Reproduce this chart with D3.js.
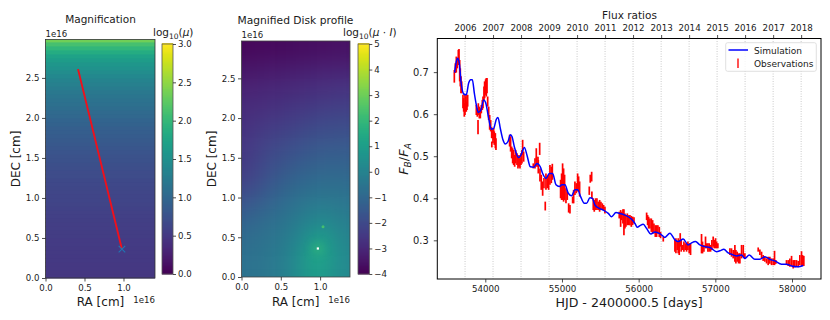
<!DOCTYPE html>
<html>
<head>
<meta charset="utf-8">
<script src="https://cdn.jsdelivr.net/npm/d3@7"></script>
<style>
  body { margin: 0; background: #fff; }
  svg text { font-family: "DejaVu Sans", sans-serif; fill: #1a1a1a; }
</style>
</head>
<body>
<div id="chart"></div>
<script>
// Magnification map: log10(mu) per DEC row, bottom to top (rows 0.05e16 tall)
const magRows = [
  .48,.48,.49,.49,.50,.50,.51,.51,.52,.52,
  .53,.53,.54,.55,.56,.57,.58,.59,.60,.61,
  .62,.63,.64,.65,.66,.68,.69,.71,.72,.74,
  .76,.78,.80,.82,.84,.86,.88,.90,.93,.96,
  1.00,1.03,1.06,1.10,1.13,1.17,1.20,1.25,1.29,1.34,
  1.40,1.46,1.52,1.58,1.65,1.73,1.84,1.97,2.12,2.35,2.55
];
const trackRa = [0.417, 0.98];
const trackDec = [2.61, 0.36];

// Disk profile: log10(mu I), top row first
const diskGrid = [
  [-3.85,-3.82,-3.80,-3.77,-3.74,-3.71,-3.68,-3.65,-3.62,-3.60],
  [-3.60,-3.57,-3.54,-3.50,-3.46,-3.42,-3.39,-3.35,-3.32,-3.30],
  [-3.35,-3.30,-3.25,-3.20,-3.15,-3.10,-3.05,-3.00,-2.96,-2.92],
  [-3.10,-3.05,-3.00,-2.94,-2.88,-2.82,-2.76,-2.70,-2.66,-2.62],
  [-2.90,-2.84,-2.77,-2.70,-2.62,-2.55,-2.47,-2.41,-2.36,-2.32],
  [-2.75,-2.65,-2.55,-2.45,-2.35,-2.25,-2.15,-2.08,-2.03,-2.00],
  [-2.60,-2.45,-2.33,-2.20,-2.07,-1.95,-1.85,-1.78,-1.73,-1.70],
  [-2.50,-2.30,-2.10,-1.93,-1.78,-1.65,-1.53,-1.46,-1.43,-1.42],
  [-2.40,-2.15,-1.92,-1.70,-1.52,-1.36,-1.24,-1.16,-1.14,-1.16],
  [-2.20,-1.95,-1.65,-1.42,-1.22,-1.05,-.92,-.85,-.85,-.90],
  [-1.80,-1.60,-1.35,-1.10,-.90,-.72,-.58,-.52,-.55,-.62],
  [-1.40,-1.22,-1.02,-.82,-.62,-.40,-.22,-.15,-.22,-.35],
  [-1.05,-.92,-.75,-.58,-.35,-.08,.20,.30,.15,-.10],
  [-.85,-.72,-.58,-.40,-.15,.25,.80,.95,.50,.10],
  [-.70,-.60,-.48,-.28,.05,.50,1.15,1.20,.65,.25],
  [-.60,-.52,-.42,-.22,.10,.50,.90,.90,.55,.22]
];
const spotRa = [0.97, 1.037];
const spotDec = [0.36, 0.633];

// Flux ratio light curve
const simDays = [53600,53622,53639,53661,53683,53718,53752,53783,53809,53831,53857,53883,53909,53944,53978,54004,54044,54078,54109,54144,54165,54196,54230,54261,54296,54326,54348,54378,54435,54465,54509,54543,54587,54630,54674,54717,54748,54791,54835,54878,54922,54965,55000,55039,55082,55126,55169,55204,55243,55291,55321,55365,55395,55430,55487,55539,55604,55647,55704,55756,55821,55908,55952,55982,56017,56060,56104,56160,56212,56277,56342,56407,56473,56516,56581,56646,56690,56742,56798,56864,56929,57016,57059,57111,57168,57211,57277,57342,57385,57442,57516,57581,57646,57711,57776,57863,57928,57994,58081,58146];
const simRatio = [.699,.725,.733,.721,.678,.648,.646,.674,.682,.682,.650,.622,.604,.610,.634,.628,.590,.564,.566,.588,.592,.566,.539,.529,.535,.551,.547,.523,.497,.503,.521,.503,.475,.474,.483,.475,.459,.447,.459,.459,.432,.428,.432,.432,.412,.406,.420,.420,.404,.388,.388,.401,.400,.384,.376,.372,.364,.356,.366,.364,.360,.350,.340,.331,.335,.338,.328,.315,.320,.316,.307,.317,.301,.297,.303,.289,.294,.297,.289,.285,.283,.273,.275,.279,.270,.267,.263,.265,.257,.265,.255,.255,.261,.255,.251,.243,.243,.239,.237,.240];

const obsDays = [
  53596,53609,53622,53635,53648,53657,53666,53674,53683,53692,
  53709,53718,53726,53735,53744,53752,53761,53770,
  53883,53896,53905,53909,53922,53935,53948,53961,53970,53983,53991,54004,54013,54022,54031,54044,54057,54070,54083,54085,54091,54100,54109,54117,54131,54139,
  54317,54330,54344,54357,54370,54383,54396,54413,54426,54439,54452,54465,54478,54487,54500,
  54626,54648,54665,54669,54687,54691,54709,54713,54730,54748,54765,54782,54791,54808,54826,54843,54861,54874,
  54982,54995,55008,55021,55034,55052,55069,55087,55104,55139,55152,55169,55187,55204,55217,55230,
  55356,55369,55387,55390,55408,55421,55439,55456,55473,55491,55508,55526,55543,55560,
  55747,55765,55778,55795,55808,55821,55834,55852,55869,55886,55904,55921,55939,
  56104,56117,56130,56147,56165,56182,56199,56217,56234,56251,56269,56286,56321,
  56473,56486,56503,56516,56529,56542,56555,56573,56590,56607,56625,56642,56659,56677,
  56820,56833,56851,56872,56885,56903,56920,56938,56955,56972,56985,57003,57016,57033,
  57190,57211,57233,57255,57268,57285,57303,57320,57342,57364,57385,
  57559,57581,57603,57624,57646,57668,57689,57711,57733,57755,57772,57789,
  57928,57950,57972,57994,58015,58037,58059,58081,58102,58124,58137,58154
];
const obsLow = [
  .675,.698,.699,.709,.717,.721,.678,.666,.650,.650,
  .614,.606,.594,.598,.606,.606,.610,.618,
  .598,.594,.552,.598,.590,.590,.602,.610,.614,.634,.638,.646,.642,.650,.618,.586,.563,.559,.543,.521,.543,.531,.539,.527,.519,.515,
  .523,.511,.495,.483,.479,.475,.483,.479,.471,.475,.471,.479,.483,.503,.487,
  .471,.471,.487,.475,.475,.459,.503,.440,.420,.406,.424,.371,.420,.424,.420,.432,.436,.444,
  .400,.396,.396,.392,.396,.388,.396,.366,.364,.388,.388,.408,.412,.416,.420,.404,
  .408,.437,.440,.400,.372,.368,.372,.372,.372,.368,.372,.372,.372,.364,
  .352,.332,.348,.340,.312,.328,.332,.336,.336,.336,.332,.336,.340,
  .348,.336,.328,.328,.320,.316,.316,.308,.308,.316,.308,.305,.297,
  .273,.269,.277,.269,.265,.285,.273,.277,.273,.277,.273,.277,.269,.265,
  .269,.269,.273,.281,.281,.273,.273,.273,.277,.285,.281,.281,.281,.281,
  .265,.261,.257,.249,.245,.249,.245,.245,.257,.261,.257,
  .273,.265,.257,.251,.249,.245,.241,.244,.241,.241,.241,.244,
  .241,.239,.237,.239,.233,.236,.237,.236,.241,.239,.239,.239
];
const obsHigh = [
  .705,.721,.737,.733,.753,.755,.729,.709,.690,.678,
  .646,.638,.626,.646,.642,.630,.646,.646,
  .622,.614,.586,.626,.618,.614,.622,.634,.642,.666,.678,.683,.686,.686,.642,.618,.598,.586,.569,.535,.563,.563,.567,.559,.555,.543,
  .551,.547,.523,.519,.515,.503,.515,.507,.499,.503,.495,.507,.515,.539,.511,
  .483,.495,.519,.499,.499,.491,.532,.471,.456,.440,.448,.392,.459,.452,.456,.479,.475,.482,
  .444,.459,.483,.471,.456,.424,.416,.388,.384,.404,.420,.440,.436,.459,.452,.440,
  .428,.456,.463,.416,.400,.396,.400,.400,.392,.396,.392,.388,.384,.380,
  .368,.372,.368,.374,.374,.364,.360,.364,.360,.360,.358,.356,.355,
  .366,.360,.356,.352,.352,.348,.340,.336,.336,.336,.332,.320,.308,
  .301,.305,.297,.305,.301,.317,.301,.289,.297,.293,.293,.297,.293,.293,
  .315,.297,.289,.309,.293,.293,.293,.289,.301,.309,.301,.305,.297,.293,
  .281,.281,.277,.289,.277,.273,.269,.269,.289,.289,.269,
  .283,.278,.273,.265,.261,.257,.261,.261,.257,.257,.275,.253,
  .253,.253,.257,.263,.253,.253,.253,.251,.265,.274,.265,.263
];

// Tick labels
const raTicks = [0, 0.5, 1];
const decTicks = [0, 0.5, 1, 1.5, 2, 2.5];
const magBarTicks = [0, 0.5, 1, 1.5, 2, 2.5, 3];
const diskBarTicks = [-4, -3, -2, -1, 0, 1, 2, 3, 4, 5];
const dayTicks = [54000, 55000, 56000, 57000, 58000];
const ratioTicks = [0.3, 0.4, 0.5, 0.6, 0.7];
const yearLabels = [2006,2007,2008,2009,2010,2011,2012,2013,2014,2015,2016,2017,2018];
const yearDays = [53736,54101,54466,54832,55197,55562,55927,56293,56658,57023,57388,57754,58119];

const svg = d3.select("#chart").append("svg")
  .attr("width", 830)
  .attr("height", 320);

const defs = svg.append("defs");
defs.append("filter").attr("id", "soft")
  .attr("color-interpolation-filters", "sRGB")
  .attr("x", "-10%").attr("y", "-10%").attr("width", "120%").attr("height", "120%")
  .append("feGaussianBlur").attr("stdDeviation", "6 8");
defs.append("filter").attr("id", "glow")
  .attr("color-interpolation-filters", "sRGB")
  .attr("x", "-200%").attr("y", "-200%").attr("width", "500%").attr("height", "500%")
  .append("feGaussianBlur").attr("stdDeviation", 4);
defs.append("clipPath").attr("id", "diskClip").append("rect")
  .attr("x", 241.5).attr("y", 41).attr("width", 108.5).attr("height", 236);

function text(x, y, str, size, anchor) {
  return svg.append("text")
    .attr("x", x).attr("y", y)
    .attr("text-anchor", anchor || "middle")
    .style("font-size", size + "px")
    .text(str);
}

function styleAxis(g, size) {
  g.select(".domain").remove();
  g.selectAll("line").attr("stroke", "#222").attr("stroke-width", 0.8);
  g.selectAll("text").style("font-size", size + "px").style("fill", "#1a1a1a");
}

function frame(x0, x1, y0, y1, color, width) {
  svg.append("rect")
    .attr("x", x0).attr("y", y0)
    .attr("width", x1 - x0).attr("height", y1 - y0)
    .attr("fill", "none").attr("stroke", color).attr("stroke-width", width);
}

function mapAxes(x, y, x0, y1) {
  const xAxis = svg.append("g").attr("transform", `translate(0,${y1})`)
    .call(d3.axisBottom(x).tickValues(raTicks).tickSize(3.5).tickPadding(3).tickFormat(d3.format(".1f")));
  styleAxis(xAxis, 8.6);
  const yAxis = svg.append("g").attr("transform", `translate(${x0},0)`)
    .call(d3.axisLeft(y).tickValues(decTicks).tickSize(3.5).tickPadding(2.5).tickFormat(d3.format(".1f")));
  styleAxis(yAxis, 8.6);
}

function colorBar(x0, x1, y0, y1, color, ticks, format) {
  const scale = d3.scaleLinear().domain(color.domain()).range([y1, y0]);
  const [lo, hi] = color.domain();
  const levels = d3.range(0, 231).map(i => lo + (hi - lo) * i / 230);
  svg.append("g").selectAll("rect").data(levels).enter().append("rect")
    .attr("x", x0)
    .attr("y", d => scale(d) - 1)
    .attr("width", x1 - x0)
    .attr("height", 1.5)
    .attr("fill", d => color(d));
  frame(x0, x1, y0, y1, "#555", 0.8);
  const axis = svg.append("g").attr("transform", `translate(${x1},0)`)
    .call(d3.axisRight(scale).tickValues(ticks).tickSize(3).tickPadding(2).tickFormat(format));
  styleAxis(axis, 8.6);
}

// subscript title such as log10(mu)
function logTitle(x, y, tail) {
  const t = text(x, y, "", 10.5, "start");
  t.append("tspan").text("log");
  t.append("tspan").attr("dy", 2.5).style("font-size", "7.5px").text("10");
  t.append("tspan").attr("dy", -2.5).text("(");
  t.append("tspan").style("font-style", "italic").text("\u03bc");
  if (tail) {
    t.append("tspan").text(" \u00b7 ");
    t.append("tspan").style("font-style", "italic").text(tail);
  }
  t.append("tspan").text(")");
}

// ---- Magnification panel
const magX = d3.scaleLinear().domain([0, 1.404]).range([45.5, 155]);
const magY = d3.scaleLinear().domain([0, 2.98]).range([278, 39.5]);
const magColor = d3.scaleSequential(d3.interpolateViridis).domain([0, 3]);

svg.append("g").selectAll("rect").data(magRows).enter().append("rect")
  .attr("x", magX(0))
  .attr("y", (d, i) => magY(Math.min((i + 1) * 0.05, 2.98)))
  .attr("width", magX(1.404) - magX(0))
  .attr("height", (d, i) => magY(i * 0.05) - magY(Math.min((i + 1) * 0.05, 2.98)) + 0.5)
  .attr("fill", d => magColor(d));

svg.append("line")
  .attr("x1", magX(trackRa[0])).attr("y1", magY(trackDec[0]))
  .attr("x2", magX(trackRa[1])).attr("y2", magY(trackDec[1]))
  .attr("stroke", "#f0101c").attr("stroke-width", 1.9);
svg.append("path")
  .attr("d", d3.symbol(d3.symbolX, 30)())
  .attr("transform", `translate(${magX(trackRa[1])},${magY(trackDec[1])})`)
  .attr("fill", "none").attr("stroke", "#1f77b4").attr("stroke-width", 1.1);

frame(45.5, 155, 39.5, 278, "#333", 0.8);
mapAxes(magX, magY, 45.5, 278);
colorBar(162, 173, 44, 274, magColor, magBarTicks, d3.format(".1f"));
text(100.5, 22.5, "Magnification", 10.5);
text(45.5, 37, "1e16", 8.6, "start");
text(155, 303, "1e16", 8.6, "end");
text(100.5, 306, "RA [cm]", 12);
text(0, 0, "DEC [cm]", 12).attr("transform", "translate(19.5,159) rotate(-90)");
logTitle(153, 36);

// ---- Disk profile panel
const diskX = d3.scaleLinear().domain([0, 1.38]).range([241.5, 350]);
const diskY = d3.scaleLinear().domain([0, 2.97]).range([277, 41]);
const diskColor = d3.scaleSequential(d3.interpolateViridis).domain([-4, 5]);
const colStep = 1.38 / diskGrid[0].length;
const rowStep = 2.97 / diskGrid.length;
const bleed = 30; // edge cells run past the clip so the blur keeps its colour there

const diskLayer = svg.append("g").attr("clip-path", "url(#diskClip)");
const diskCells = diskLayer.append("g").attr("filter", "url(#soft)");
diskGrid.forEach((row, r) => {
  const lastCol = row.length - 1;
  const topPad = r === 0 ? bleed : 0;
  const bottomPad = r === diskGrid.length - 1 ? bleed : 0;
  diskCells.append("g").selectAll("rect").data(row).enter().append("rect")
    .attr("x", (d, c) => diskX(c * colStep) - (c === 0 ? bleed : 0))
    .attr("y", diskY(2.97 - r * rowStep) - topPad)
    .attr("width", (d, c) => diskX(colStep) - diskX(0) + 0.5 + (c === 0 || c === lastCol ? bleed : 0))
    .attr("height", diskY(0) - diskY(rowStep) + 0.5 + topPad + bottomPad)
    .attr("fill", d => diskColor(d));
});

// glow round the source and the two bright pixels
diskLayer.append("circle")
  .attr("cx", diskX(spotRa[0])).attr("cy", diskY(spotDec[0]))
  .attr("r", 5).attr("fill", diskColor(2)).attr("fill-opacity", 0.8).attr("filter", "url(#glow)");
svg.append("rect")
  .attr("x", diskX(spotRa[0]) - 1).attr("y", diskY(spotDec[0]) - 1)
  .attr("width", 2.2).attr("height", 2.2).attr("fill", "#fff");
svg.append("circle")
  .attr("cx", diskX(spotRa[1])).attr("cy", diskY(spotDec[1]))
  .attr("r", 1.5).attr("fill", diskColor(2.3));

frame(241.5, 350, 41, 277, "#444", 0.8);
mapAxes(diskX, diskY, 241.5, 277);
colorBar(358, 369.3, 44, 274, diskColor, diskBarTicks, d => String(d).replace("-", "\u2212"));
text(295.5, 24, "Magnified Disk profile", 10.7);
text(241.5, 38, "1e16", 8.6, "start");
text(350, 302.5, "1e16", 8.6, "end");
text(295.7, 305.5, "RA [cm]", 12);
text(0, 0, "DEC [cm]", 12).attr("transform", "translate(215.5,159) rotate(-90)");
logTitle(343, 36, "I");

// ---- Flux ratio panel
const dayX = d3.scaleLinear().domain([53374, 58378]).range([437.3, 821]);
const ratioY = d3.scaleLinear().domain([0.208, 0.78]).range([279, 38.5]);

svg.append("g").selectAll("line").data(yearDays).enter().append("line")
  .attr("x1", d => dayX(d)).attr("x2", d => dayX(d))
  .attr("y1", 38.5).attr("y2", 279)
  .attr("stroke", "#c4c4c4").attr("stroke-width", 0.9).attr("stroke-dasharray", "1,1.5");

svg.append("g").selectAll("line").data(obsDays).enter().append("line")
  .attr("x1", d => dayX(d)).attr("x2", d => dayX(d))
  .attr("y1", (d, i) => ratioY(obsLow[i])).attr("y2", (d, i) => ratioY(obsHigh[i]))
  .attr("stroke", "#ff0000").attr("stroke-width", 1.7);

const simLine = d3.line().x(d => dayX(d[0])).y(d => ratioY(d[1])).curve(d3.curveMonotoneX);
svg.append("path")
  .attr("d", simLine(simDays.map((d, i) => [d, simRatio[i]])))
  .attr("fill", "none").attr("stroke", "#0000ff").attr("stroke-width", 1.5);

frame(437.3, 821, 38.5, 279, "#000", 1);

const dayAxis = svg.append("g").attr("transform", "translate(0,279)")
  .call(d3.axisBottom(dayX).tickValues(dayTicks).tickSize(3.5).tickPadding(3).tickFormat(d3.format("d")));
styleAxis(dayAxis, 8.7);
const ratioAxis = svg.append("g").attr("transform", "translate(437.3,0)")
  .call(d3.axisLeft(ratioY).tickValues(ratioTicks).tickSize(3.5).tickPadding(5).tickFormat(d3.format(".1f")));
styleAxis(ratioAxis, 9.9);
const yearAxis = svg.append("g").attr("transform", "translate(0,38.5)")
  .call(d3.axisTop(dayX).tickValues(yearDays).tickSize(3.5).tickPadding(4).tickFormat((d, i) => yearLabels[i]));
styleAxis(yearAxis, 8.7);

text(629.5, 18.5, "Flux ratios", 10.5);
text(629, 307, "HJD - 2400000.5 [days]", 12.6);

const fluxLabel = text(0, 0, "", 13).attr("transform", "translate(408,159) rotate(-90)")
  .style("font-style", "italic");
fluxLabel.append("tspan").text("F");
fluxLabel.append("tspan").attr("dy", 2.5).style("font-size", "9px").text("B");
fluxLabel.append("tspan").attr("dy", -2.5).style("font-style", "normal").text("/");
fluxLabel.append("tspan").text("F");
fluxLabel.append("tspan").attr("dy", 2.5).style("font-size", "9px").text("A");

// legend
svg.append("rect")
  .attr("x", 725.7).attr("y", 42.7).attr("width", 90.6).attr("height", 28.6).attr("rx", 2)
  .attr("fill", "#fff").attr("fill-opacity", 0.8).attr("stroke", "#d8d8d8").attr("stroke-width", 0.8);
svg.append("line").attr("x1", 728.5).attr("x2", 748).attr("y1", 50).attr("y2", 50)
  .attr("stroke", "#0000ff").attr("stroke-width", 1.5);
svg.append("line").attr("x1", 738).attr("x2", 738).attr("y1", 58.5).attr("y2", 68)
  .attr("stroke", "#ff0000").attr("stroke-opacity", 0.8).attr("stroke-width", 1.7);
text(754, 53.5, "Simulation", 9, "start");
text(754, 66.5, "Observations", 9, "start");
</script>
</body>
</html>
